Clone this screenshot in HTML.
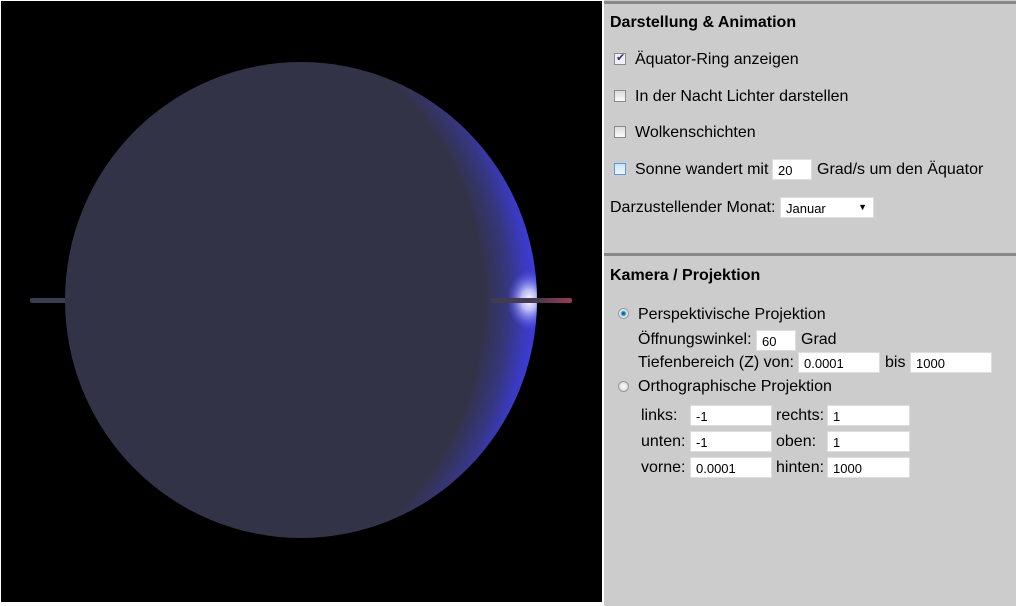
<!DOCTYPE html>
<html><head><meta charset="utf-8"><style>
body{margin:0;width:1016px;height:606px;background:#fff;position:relative;overflow:hidden;font-family:"Liberation Sans",Arial,sans-serif;font-size:16px;color:#000}
.a{position:absolute;white-space:nowrap}
.inp{position:absolute;background:#fff;border:1px solid #ddd;box-sizing:border-box;font-size:13px;padding:3px 0 0 5px;height:21px}
.cb{position:absolute;width:12px;height:12px;border:1px solid #8a8a8a;background:linear-gradient(#ddd,#fafafa);box-sizing:border-box}
.rd{position:absolute;width:11px;height:11px;border-radius:50%;border:1px solid #999;background:radial-gradient(#fff,#ccc);box-sizing:border-box}
.hr{position:absolute;left:604px;width:412px;height:3px;background:#888}
</style></head><body>
<div class="a" style="left:1px;top:1px;width:601px;height:601px;background:#000;overflow:hidden">
<svg width="601" height="601">
<defs>
<radialGradient id="limb" cx="0.25" cy="0.5" r="0.75">
<stop offset="0.85" stop-color="#333348"/><stop offset="0.92" stop-color="#363680"/><stop offset="0.97" stop-color="#3a3ac0"/><stop offset="1" stop-color="#3c3cd8"/>
</radialGradient>
<radialGradient id="glow" cx="0.5" cy="0.5" r="0.5"><stop offset="0" stop-color="#fff"/><stop offset="0.35" stop-color="#d0d0ff" stop-opacity=".85"/><stop offset="1" stop-color="#6060ff" stop-opacity="0"/></radialGradient>
<linearGradient id="ring" x1="0" x2="1"><stop offset="0" stop-color="#3c3c50"/><stop offset="0.6" stop-color="#4a3a50"/><stop offset="1" stop-color="#9a3a55"/></linearGradient>
<clipPath id="sp"><ellipse cx="300" cy="299" rx="236" ry="238"/></clipPath>
</defs>
<rect x="29" y="297" width="40" height="5" rx="2" fill="#3c3c50"/>
<ellipse cx="300" cy="299" rx="236" ry="238" fill="url(#limb)"/>
<ellipse cx="528" cy="299" rx="22" ry="30" fill="url(#glow)" clip-path="url(#sp)"/>
<rect x="490" y="297" width="81" height="5" rx="2" fill="url(#ring)"/>
</svg></div>
<div class="a" style="left:604px;top:0;width:412px;height:606px;background:#ccc"></div>
<div class="hr" style="top:1px"></div>
<div class="a" style="left:610px;top:14px;font-weight:bold">Darstellung &amp; Animation</div>
<div class="cb" style="left:614px;top:53px;background:#eef"><span style="position:absolute;left:1px;top:-3px;font-size:11px;color:#336">✔</span></div>
<div class="a" style="left:635px;top:51px">Äquator-Ring anzeigen</div>
<div class="cb" style="left:614px;top:90px"></div>
<div class="a" style="left:635px;top:88px">In der Nacht Lichter darstellen</div>
<div class="cb" style="left:614px;top:126px"></div>
<div class="a" style="left:635px;top:124px">Wolkenschichten</div>
<div class="cb" style="left:614px;top:163px;border-color:#5a9ad8;background:linear-gradient(#cfe6fa,#eef6fd)"></div>
<div class="a" style="left:635px;top:161px">Sonne wandert mit</div>
<div class="inp" style="left:772px;top:159px;width:40px">20</div>
<div class="a" style="left:817px;top:161px">Grad/s um den Äquator</div>
<div class="a" style="left:610px;top:199px">Darzustellender Monat:</div>
<div class="inp" style="left:780px;top:197px;width:94px">Januar<span style="position:absolute;right:6px;top:4px;font-size:9px">▼</span></div>
<div class="hr" style="top:253px"></div>
<div class="a" style="left:610px;top:267px;font-weight:bold">Kamera / Projektion</div>
<div class="rd" style="left:618px;top:308px;background:radial-gradient(#245 0,#38c 30%,#bde 45%,#eee 70%)"></div>
<div class="a" style="left:638px;top:306px">Perspektivische Projektion</div>
<div class="a" style="left:638px;top:331px">Öffnungswinkel:</div>
<div class="inp" style="left:756px;top:330px;width:40px">60</div>
<div class="a" style="left:801px;top:331px">Grad</div>
<div class="a" style="left:638px;top:354px">Tiefenbereich (Z) von:</div>
<div class="inp" style="left:798px;top:352px;width:82px">0.0001</div>
<div class="a" style="left:885px;top:354px">bis</div>
<div class="inp" style="left:910px;top:352px;width:82px">1000</div>
<div class="rd" style="left:618px;top:381px"></div>
<div class="a" style="left:638px;top:378px">Orthographische Projektion</div>
<div class="a" style="left:641px;top:407px">links:</div>
<div class="inp" style="left:690px;top:405px;width:82px">-1</div>
<div class="a" style="left:776px;top:407px">rechts:</div>
<div class="inp" style="left:827px;top:405px;width:83px">1</div>
<div class="a" style="left:641px;top:433px">unten:</div>
<div class="inp" style="left:690px;top:431px;width:82px">-1</div>
<div class="a" style="left:776px;top:433px">oben:</div>
<div class="inp" style="left:827px;top:431px;width:83px">1</div>
<div class="a" style="left:641px;top:459px">vorne:</div>
<div class="inp" style="left:690px;top:457px;width:82px">0.0001</div>
<div class="a" style="left:776px;top:459px">hinten:</div>
<div class="inp" style="left:827px;top:457px;width:83px">1000</div>
</body></html>
